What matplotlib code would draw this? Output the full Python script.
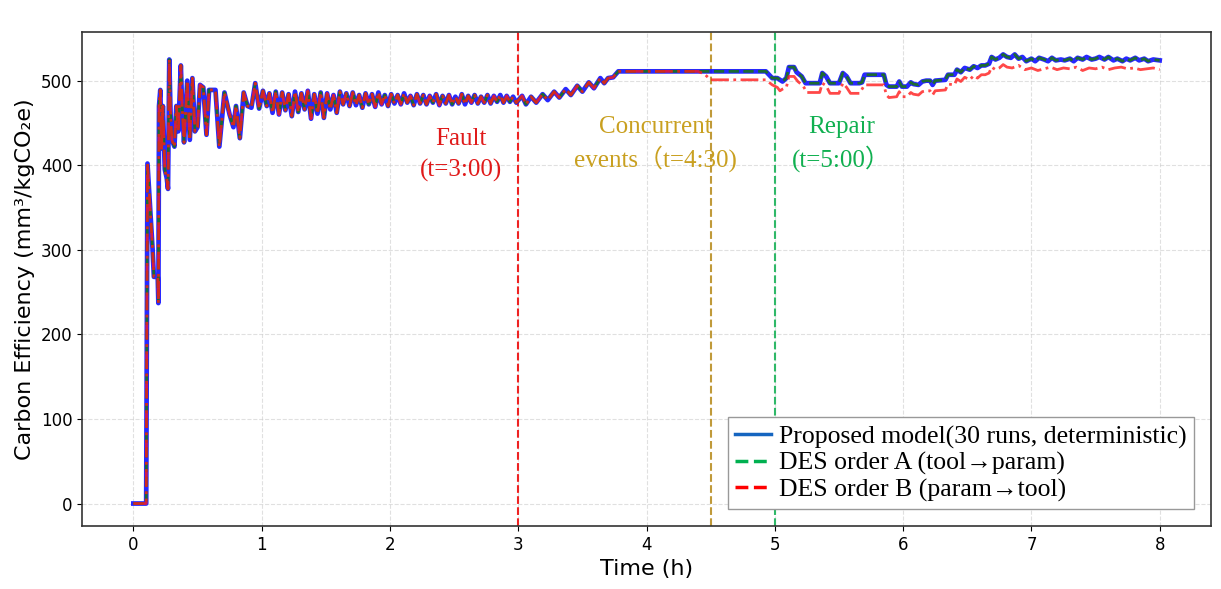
import matplotlib
matplotlib.use("Agg")
import matplotlib.pyplot as plt
from matplotlib.lines import Line2D

# time (h) and carbon efficiency for the proposed model (DES order A follows it exactly)
t_a = [0.00, 0.10, 0.11, 0.13, 0.15, 0.16, 0.19, 0.195, 0.20, 0.21, 0.22, 0.23, 0.245, 0.26, 0.27,
       0.28, 0.29, 0.30, 0.32, 0.335, 0.35, 0.37, 0.38, 0.395, 0.42, 0.44, 0.46, 0.48, 0.50, 0.52,
       0.545, 0.57, 0.59, 0.64, 0.67, 0.71, 0.75, 0.78, 0.80, 0.83, 0.86, 0.89, 0.92, 0.95, 0.98,
       1.01, 1.04,
       1.06, 1.085, 1.11, 1.135, 1.16, 1.185, 1.21, 1.235, 1.26, 1.285, 1.31, 1.335, 1.36, 1.385,
       1.41, 1.435, 1.46, 1.485, 1.51, 1.535, 1.56, 1.585, 1.61, 1.635, 1.66, 1.685, 1.71, 1.735,
       1.76, 1.785, 1.81, 1.835, 1.86, 1.885, 1.91, 1.935, 1.96, 1.985,
       2.01, 2.035, 2.06, 2.085, 2.11, 2.135, 2.16, 2.185, 2.21, 2.235, 2.26, 2.285, 2.31, 2.335,
       2.36, 2.385, 2.41, 2.435, 2.46, 2.485, 2.51, 2.535, 2.56, 2.585, 2.61, 2.635, 2.66, 2.685,
       2.71, 2.735, 2.76, 2.785, 2.81, 2.835, 2.86, 2.885, 2.91, 2.935, 2.96, 2.985,
       3.03, 3.06, 3.10, 3.14, 3.19, 3.23, 3.28, 3.32, 3.37, 3.41, 3.46, 3.50, 3.55, 3.59, 3.64,
       3.67, 3.70, 3.74, 3.78, 3.80, 4.40, 4.93,
       4.98, 5.02, 5.06, 5.09, 5.11, 5.15, 5.17, 5.21, 5.24, 5.35, 5.37, 5.40, 5.43, 5.50, 5.53,
       5.56, 5.59, 5.66, 5.68, 5.70, 5.85, 5.87, 5.89, 5.95, 5.97, 5.99, 6.03, 6.06, 6.08, 6.12,
       6.15, 6.18, 6.21, 6.23, 6.25, 6.33, 6.35, 6.40, 6.42, 6.45, 6.48, 6.52, 6.55, 6.58, 6.61,
       6.64, 6.67, 6.69, 6.72, 6.75, 6.78, 6.81, 6.84, 6.87, 6.90, 6.93, 6.96, 7.00, 7.03, 7.06,
       7.10, 7.13, 7.16, 7.19, 7.23, 7.26, 7.30, 7.33, 7.36, 7.40, 7.43, 7.47, 7.50, 7.53, 7.57,
       7.60, 7.64, 7.67, 7.71, 7.74, 7.77, 7.81, 7.84, 7.88, 7.91, 7.95, 8.00]
v_a = [0, 0, 402, 350, 300, 268, 268, 237, 470, 489, 420, 470, 395, 385, 372,
       525, 460, 430, 422, 470, 440, 518, 470, 427, 500, 430, 503, 440, 445, 495,
       492, 436, 489, 489, 422, 486, 460, 445, 470, 432, 486, 470, 468, 497, 467,
       488, 470,
       485, 462, 487, 460, 486, 465, 484, 458, 487, 463, 485, 466, 488, 455,
       484, 461, 486, 456, 485, 466, 483, 462, 487, 472, 485, 470, 486, 471,
       483, 468, 485, 472, 484, 469, 486, 472, 483, 470,
       484, 473, 483, 472, 485, 474, 482, 471, 484, 473, 483, 472, 482, 474,
       484, 471, 482, 473, 483, 472, 481, 473, 484, 472, 482, 474, 483, 473,
       481, 474, 483, 473, 482, 475, 483, 474, 482, 475, 481, 474,
       482, 472, 481, 474, 484, 477, 487, 480, 490, 483, 494, 487, 498, 491, 503,
       497, 503, 504, 511, 511, 511, 511,
       503, 503, 499, 503, 516, 516, 510, 505, 497, 497, 509, 505, 497, 497, 509,
       505, 497, 497, 498, 507, 507, 495, 493, 493, 499, 493, 493, 498, 496, 495,
       499, 500, 500, 495, 500, 501, 507, 507, 513, 510, 515, 513, 517, 515, 518,
       518, 520, 528, 525, 527, 531, 528, 527, 531, 526, 528, 523, 526, 523, 527,
       525, 523, 527, 524, 525, 524, 526, 523, 527, 525, 528, 525, 526, 528, 525,
       528, 524, 526, 523, 526, 524, 527, 524, 526, 523, 525, 524]

# DES order B: identical to A up to 4.40 h, then runs lower
t_b_tail = [4.45, 4.50, 4.93, 4.98, 5.02, 5.04, 5.06, 5.09, 5.11, 5.15, 5.18, 5.22, 5.25, 5.35,
            5.37, 5.40, 5.43, 5.50, 5.53, 5.56, 5.59, 5.66, 5.70, 5.85, 5.87, 5.89, 5.95, 5.97,
            5.99, 6.03, 6.06, 6.08, 6.12, 6.15, 6.18, 6.21, 6.23, 6.25, 6.33, 6.35, 6.40, 6.42,
            6.45, 6.48, 6.52, 6.55, 6.58, 6.61, 6.64, 6.67, 6.69, 6.72, 6.75, 6.78, 6.81, 6.85,
            6.90, 6.95, 7.00, 7.05, 7.10, 7.15, 7.20, 7.25, 7.30, 7.35, 7.40, 7.45, 7.50, 7.55,
            7.60, 7.65, 7.70, 7.75, 7.80, 7.85, 7.90, 7.95, 8.00]
v_b_tail = [508, 501, 501, 495, 492, 488, 490, 492, 505, 505, 499, 494, 486, 486,
            497, 494, 485, 485, 497, 492, 485, 485, 495, 495, 483, 480, 481, 487,
            481, 481, 486, 484, 483, 487, 488, 488, 483, 488, 489, 496, 495, 502,
            499, 504, 501, 506, 503, 507, 507, 509, 516, 513, 515, 519, 516, 515,
            518, 513, 515, 512, 514, 516, 513, 515, 514, 516, 512, 515, 514, 516,
            513, 515, 516, 514, 515, 513, 514, 515, 513]

n_head = t_a.index(4.40) + 1
t_b = t_a[:n_head] + t_b_tail
v_b = v_a[:n_head] + v_b_tail

events = [3.0, 4.5, 5.0]
event_colors = ['#ee2222', '#c09a3a', '#2fb868']

fig, ax = plt.subplots(figsize=(12.21, 5.89), dpi=100)
fig.subplots_adjust(left=0.0672, right=0.9918, top=0.9457, bottom=0.107)

ax.plot(t_a, v_a, color='#1010ff', lw=3.4, alpha=0.9, zorder=3)
ax.plot(t_a, v_a, color='#1d6b32', lw=2.0, ls='--', zorder=4)
ax.plot(t_b, v_b, color='#ff1a1a', lw=2.0, ls='-.', alpha=0.8, zorder=5)

for x, c in zip(events, event_colors):
    ax.axvline(x, color=c, lw=1.5, ls='--', zorder=2)

serif = ['Liberation Serif', 'Noto Sans CJK SC']
ax.text(2.55, 412, 'Fault\n(t=3:00)', color='#e01a1a', fontsize=18, family=serif,
        ha='center', va='center', linespacing=1.55)
ax.text(4.07, 425, 'Concurrent\nevents\uff08t=4:30)', color='#c9a020', fontsize=18, family=serif,
        ha='center', va='center', linespacing=1.35)
ax.text(5.52, 425, 'Repair\n(t=5:00\uff09', color='#10b050', fontsize=18, family=serif,
        ha='center', va='center', linespacing=1.35)

ax.grid(True, ls='--', color='#cccccc', alpha=0.6, lw=0.8)
ax.set_xlabel('Time (h)', fontsize=16)
ax.set_ylabel('Carbon Efficiency (mm³/kgCO₂e)', fontsize=16)
ax.tick_params(labelsize=12)
ax.set_xticks(range(0, 9))
for s in ax.spines.values():
    s.set_color('#333333')
    s.set_linewidth(1.2)

handles = [Line2D([], [], color='#1565c0', lw=2.5),
           Line2D([], [], color='#00b050', lw=2.5, ls='--'),
           Line2D([], [], color='#ff0000', lw=2.5, ls='--')]
labels = ['Proposed model(30 runs, deterministic)',
          'DES order A (tool\u2192param)',
          'DES order B (param\u2192tool)']
leg = ax.legend(handles, labels, loc='lower right', prop={'family': ['Liberation Serif', 'DejaVu Sans'], 'size': 18.5},
                fancybox=False, edgecolor='#999999', framealpha=1, labelspacing=0.12,
                handlelength=1.4, handletextpad=0.3, borderaxespad=0.65, borderpad=0.3)
leg.get_frame().set_linewidth(1.0)

plt.savefig('out.png', dpi=100)
